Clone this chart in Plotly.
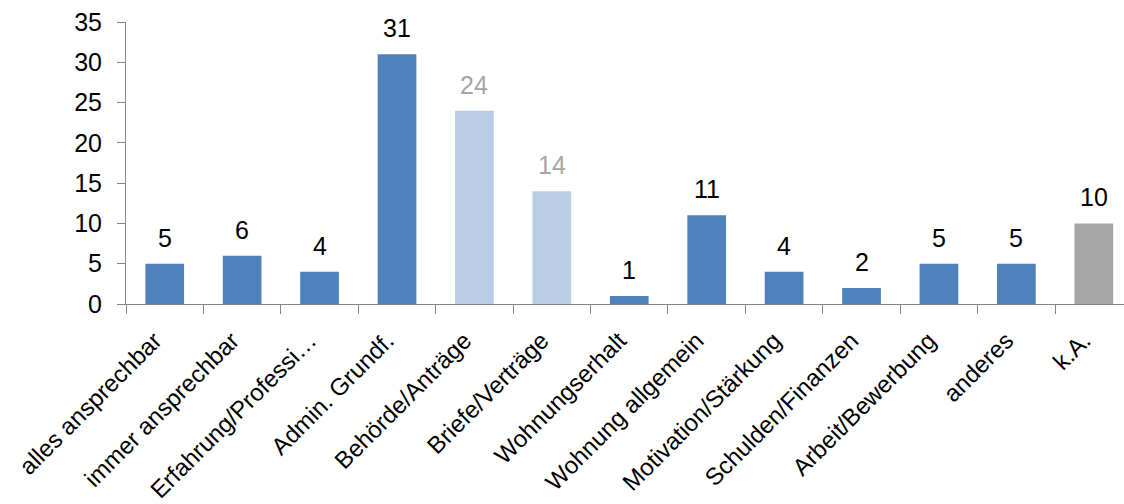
import plotly.graph_objects as go

categories = ["alles ansprechbar", "immer ansprechbar", "Erfahrung/Professi…", "Admin. Grundf.",
              "Behörde/Anträge", "Briefe/Verträge", "Wohnungserhalt", "Wohnung allgemein",
              "Motivation/Stärkung", "Schulden/Finanzen", "Arbeit/Bewerbung", "anderes", "k.A."]
values = [5, 6, 4, 31, 24, 14, 1, 11, 4, 2, 5, 5, 10]
groups = ["main", "main", "main", "main", "light", "light", "main", "main", "main", "main", "main", "main", "na"]
y_ticks = [0, 5, 10, 15, 20, 25, 30, 35]

bar_colors = {"main": "#4F81BD", "light": "#B9CDE5", "na": "#A6A6A6"}
label_colors = {"main": "#000000", "light": "#A6A6A6", "na": "#000000"}
FONT = "Liberation Sans, Arial, sans-serif"

fig = go.Figure()
fig.add_trace(go.Bar(
    x=categories, y=values,
    marker=dict(color=[bar_colors[g] for g in groups], line=dict(width=0)),
    hoverinfo="x+y",
))

for c, v, g in zip(categories, values, groups):
    fig.add_annotation(x=c, y=v, text=str(v), showarrow=False, yanchor="bottom", yshift=10,
                       font=dict(family=FONT, size=25, color=label_colors[g]))

fig.update_layout(
    width=1124, height=504,
    margin=dict(l=126, r=0, t=22, b=200, autoexpand=False),
    plot_bgcolor="white", paper_bgcolor="white",
    bargap=0.5, showlegend=False,
    font=dict(family=FONT, size=24, color="#000000"),
    xaxis=dict(
        type="category", range=[-0.5, 12.39], tickangle=-45, automargin=False,
        tickson="boundaries", ticks="outside", ticklen=9, tickcolor="#868686",
        showline=True, linecolor="#868686", linewidth=1, showgrid=False,
        tickfont=dict(family=FONT, size=24, color="#000000"),
        ticklabelstandoff=12, ticklabelshift=-10,
    ),
    yaxis=dict(
        range=[0, 35], tickvals=y_ticks, ticks="outside", ticklen=8, tickcolor="#868686",
        showline=True, linecolor="#868686", linewidth=1, showgrid=False, zeroline=False,
        automargin=False,
        tickfont=dict(family=FONT, size=25, color="#000000"),
        ticklabelstandoff=10,
    ),
)

fig.write_html("out.html")
